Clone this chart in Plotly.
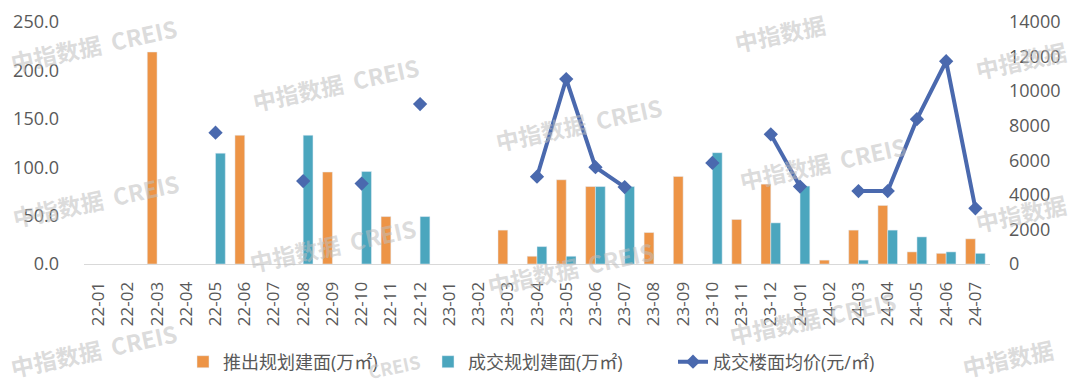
import plotly.graph_objects as go

months = ["22-01","22-02","22-03","22-04","22-05","22-06","22-07","22-08","22-09","22-10","22-11","22-12",
          "23-01","23-02","23-03","23-04","23-05","23-06","23-07","23-08","23-09","23-10","23-11","23-12",
          "24-01","24-02","24-03","24-04","24-05","24-06","24-07"]

supply = [None, None, 219, None, None, 133, None, None, 95, None, 49, None,
          None, None, 35, 8, 87, 80, None, 32.5, 90.5, None, 46, 82.5,
          None, 4, 35, 60.5, 12.5, 11, 26]

deal = [None, None, None, None, 114.5, None, None, 133, None, 95.5, None, 49,
        None, None, None, 18, 8, 80, 80, None, None, 115, None, 42.5,
        80.5, None, 4, 35, 28, 12.5, 11]

price = [None, None, None, None, 7600, None, None, 4800, None, 4650, None, 9250,
         None, None, None, 5050, 10700, 5600, 4450, None, None, 5850, None, 7500,
         4480, None, 4220, 4220, 8380, 11730, 3220]

WM_FULL = "中指数据  CREIS"
# watermark positions in screenshot pixels
watermarks = [(93, 45, WM_FULL, 23), (335, 84, WM_FULL, 23), (95, 200, WM_FULL, 23),
              (332, 245, WM_FULL, 23), (93, 350, WM_FULL, 23), (394, 366, "CREIS", 18),
              (578, 124, WM_FULL, 23), (570, 268, WM_FULL, 23), (780, 33, "中指数据", 23),
              (822, 163, WM_FULL, 23), (812, 318, WM_FULL, 23),
              (1021, 60, "中指数据", 23), (1021, 213, "中指数据", 23), (1008, 358, "中指数据", 23)]

ORANGE = "#ED9446"
TEAL = "#4BA6BE"
BLUE = "#4A69AE"
TXT = "#595959"
FONT = "Open Sans, Noto Sans CJK SC, sans-serif"

# page body adds an 8px offset; figure sized to fill the remaining window
OFF = 8
W, H = 1080 - OFF, 387 - OFF
ml, mr, mt, mb = 76, 90, 14, 123
pw, ph = W - ml - mr, H - mt - mb

fig = go.Figure()
fig.add_trace(go.Bar(x=months, y=supply, name="推出规划建面(万㎡)", marker_color=ORANGE,
                     offsetgroup="a"))
fig.add_trace(go.Bar(x=months, y=deal, name="成交规划建面(万㎡)", marker_color=TEAL,
                     offsetgroup="b"))
fig.add_trace(go.Scatter(x=months, y=price, name="成交楼面均价(元/㎡)", yaxis="y2",
                         mode="lines+markers", connectgaps=False,
                         line=dict(color=BLUE, width=4),
                         marker=dict(symbol="diamond", size=11, color=BLUE)))

for (px, py, txt, fs) in watermarks:
    fx, fy = px - OFF, py - OFF
    fig.add_annotation(xref="paper", yref="paper",
                       x=(fx - ml) / pw, y=(H - mb - fy) / ph,
                       text="<b>" + txt + "</b>", showarrow=False, textangle=-12,
                       font=dict(family="Noto Sans CJK SC", size=fs, color="rgba(190,190,190,0.55)"),
                       xanchor="center", yanchor="middle")

fig.update_layout(
    width=W, height=H,
    margin=dict(l=ml, r=mr, t=mt, b=mb, autoexpand=False),
    paper_bgcolor="white", plot_bgcolor="white",
    barmode="group", bargap=0.33, bargroupgap=0,
    font=dict(family=FONT, color=TXT),
    showlegend=True,
    legend=dict(orientation="h", x=(198 - OFF - ml - 15) / pw, xanchor="left",
                y=(H - mb - (362 - OFF)) / ph, yanchor="middle",
                font=dict(size=18, color=TXT), traceorder="normal",
                entrywidth=200, entrywidthmode="pixels"),
    xaxis=dict(type="category", range=[-0.5, len(months) - 0.5], tickangle=-90,
               tickfont=dict(size=17, color=TXT),
               showline=True, linecolor="#d9d9d9", linewidth=1, showgrid=False,
               ticks="", ticklen=0, automargin=False, ticklabelstandoff=10),
    yaxis=dict(range=[0, 250], dtick=50, tickformat=".1f", showgrid=False, zeroline=False,
               tickfont=dict(size=18, color=TXT), ticks="", ticklabelstandoff=24,
               automargin=False),
    yaxis2=dict(range=[0, 14000], dtick=2000, tickformat="d", overlaying="y", side="right",
                showgrid=False, zeroline=False, tickfont=dict(size=18, color=TXT), ticks="",
                ticklabelstandoff=18, automargin=False),
)

fig.write_html("out.html")
